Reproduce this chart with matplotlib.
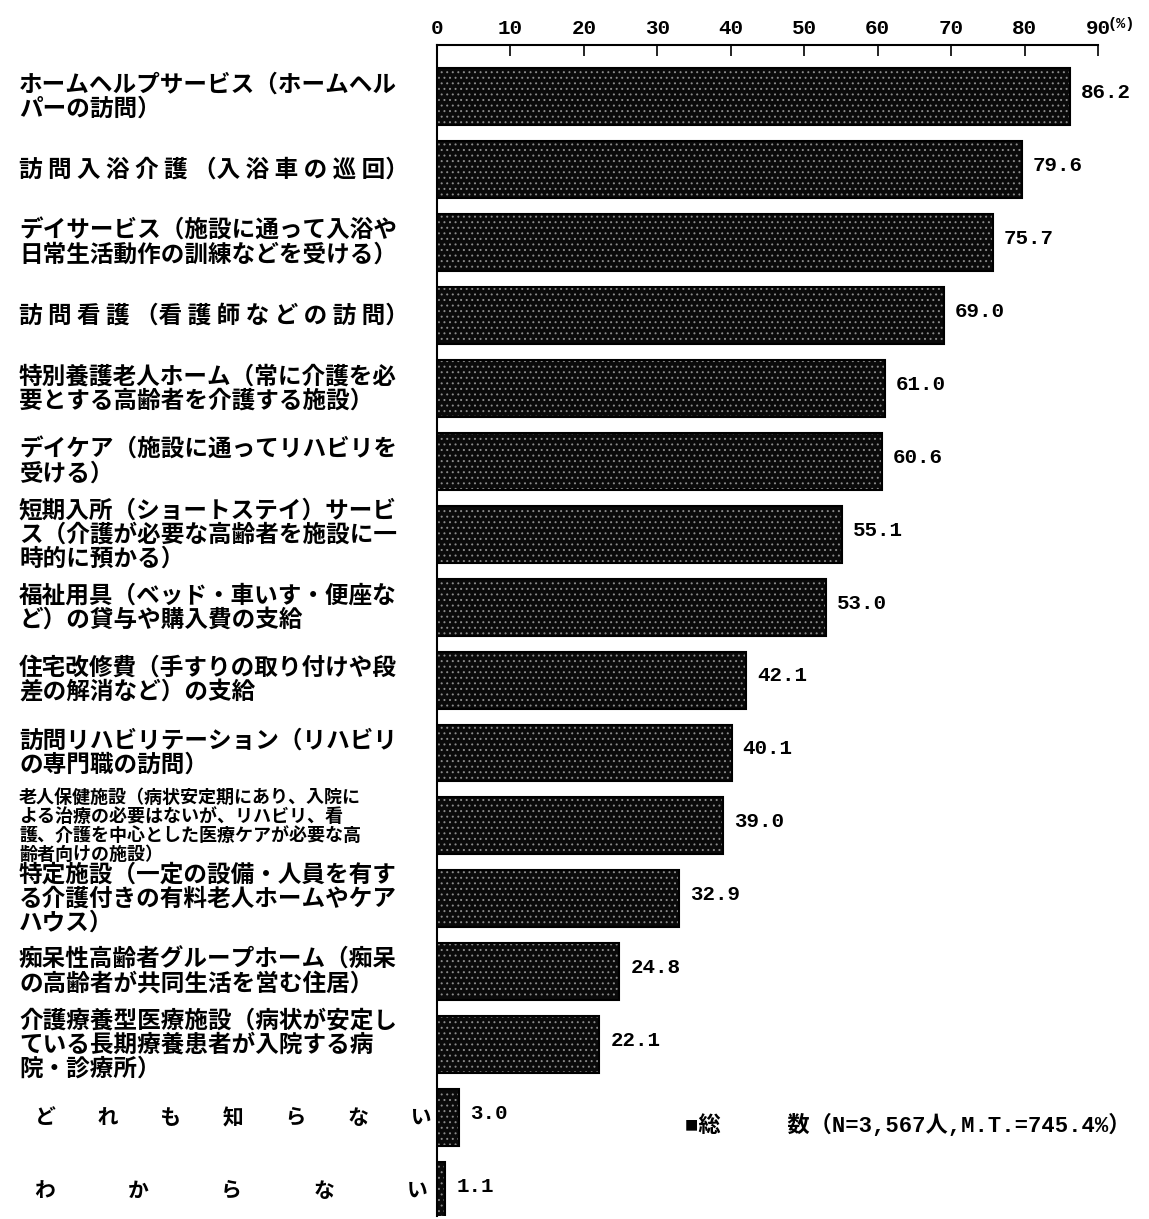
import numpy as np
import matplotlib.pyplot as plt

plt.rcParams['font.family'] = ['Noto Sans CJK JP', 'DejaVu Sans']
plt.rcParams['hatch.color'] = '#8a8a8a'
plt.rcParams['hatch.linewidth'] = 0.7

# data
labels = [
    'ホームヘルプサービス（ホームヘル\nパーの訪問）',
    '訪 問 入 浴 介 護 （入 浴 車 の 巡 回）',
    'デイサービス（施設に通って入浴や\n日常生活動作の訓練などを受ける）',
    '訪 問 看 護 （看 護 師 な ど の 訪 問）',
    '特別養護老人ホーム（常に介護を必\n要とする高齢者を介護する施設）',
    'デイケア（施設に通ってリハビリを\n受ける）',
    '短期入所（ショートステイ）サービ\nス（介護が必要な高齢者を施設に一\n時的に預かる）',
    '福祉用具（ベッド・車いす・便座な\nど）の貸与や購入費の支給',
    '住宅改修費（手すりの取り付けや段\n差の解消など）の支給',
    '訪問リハビリテーション（リハビリ\nの専門職の訪問）',
    '老人保健施設（病状安定期にあり、入院に\nよる治療の必要はないが、リハビリ、看\n護、介護を中心とした医療ケアが必要な高\n齢者向けの施設）',
    '特定施設（一定の設備・人員を有す\nる介護付きの有料老人ホームやケア\nハウス）',
    '痴呆性高齢者グループホーム（痴呆\nの高齢者が共同生活を営む住居）',
    '介護療養型医療施設（病状が安定し\nている長期療養患者が入院する病\n院・診療所）',
    'ど　　れ　　も　　知　　ら　　な　　い',
    'わ　　　  か　　　  ら　　　  な　　　  い',
]
values = [86.2, 79.6, 75.7, 69.0, 61.0, 60.6, 55.1, 53.0, 42.1, 40.1,
          39.0, 32.9, 24.8, 22.1, 3.0, 1.1]
ticks = [0, 10, 20, 30, 40, 50, 60, 70, 80, 90]
legend_text = '■総　　　数（N=3,567人,M.T.=745.4%）'

fig = plt.figure(figsize=(11.49, 12.19), dpi=100)
ax = fig.add_axes([437/1149, 3/1219, 661/1149, 1171/1219])

y = np.arange(len(values))
ax.barh(y, values, height=0.78, color='#0a0a0a', hatch='...', edgecolor=None)
ax.barh(y, values, height=0.78, fill=False, edgecolor='black', linewidth=1.5)

for yi, v in zip(y, values):
    ax.annotate(f'{v:.1f}', (v, yi), xytext=(8, 3), textcoords='offset points',
                va='center', ha='left', fontsize=15, fontweight='bold',
                family='Liberation Mono')

ax.set_xlim(0, 90)
ax.set_ylim(15.35, -0.71)
ax.xaxis.tick_top()
ax.set_xticks(ticks)
ax.set_xticklabels([str(t) for t in ticks], family='Liberation Mono',
                   fontsize=15, fontweight='bold')
ax.tick_params(axis='x', direction='in', length=8, width=1.2, pad=5)
ax.set_yticks([])
for s in ['right', 'bottom']:
    ax.spines[s].set_visible(False)
ax.spines['top'].set_linewidth(1.5)
ax.spines['left'].set_linewidth(1.5)

fig.text(1108/1149, 1 - 24/1219, '(%)', fontsize=11, fontweight='bold',
         family='Liberation Mono', ha='left', va='center')

for yi, lab in zip(y, labels):
    x0 = -418/661*90
    if lab.startswith('老人保健'):
        fs, ls = 13, 1.0
    elif yi >= 14:
        fs, ls = 15, 1.0
        x0 = -402/661*90
    else:
        fs, ls = 17, 1.0
    ax.text(x0, yi, lab, ha='left', va='center',
            fontsize=fs, fontweight='bold', linespacing=ls)

fig.text(685/1149, 1 - 1125/1219, legend_text, fontsize=16, fontweight='bold',
         family=['Liberation Mono', 'Noto Sans CJK JP'], ha='left', va='center')

fig.savefig('out.png', dpi=100)
